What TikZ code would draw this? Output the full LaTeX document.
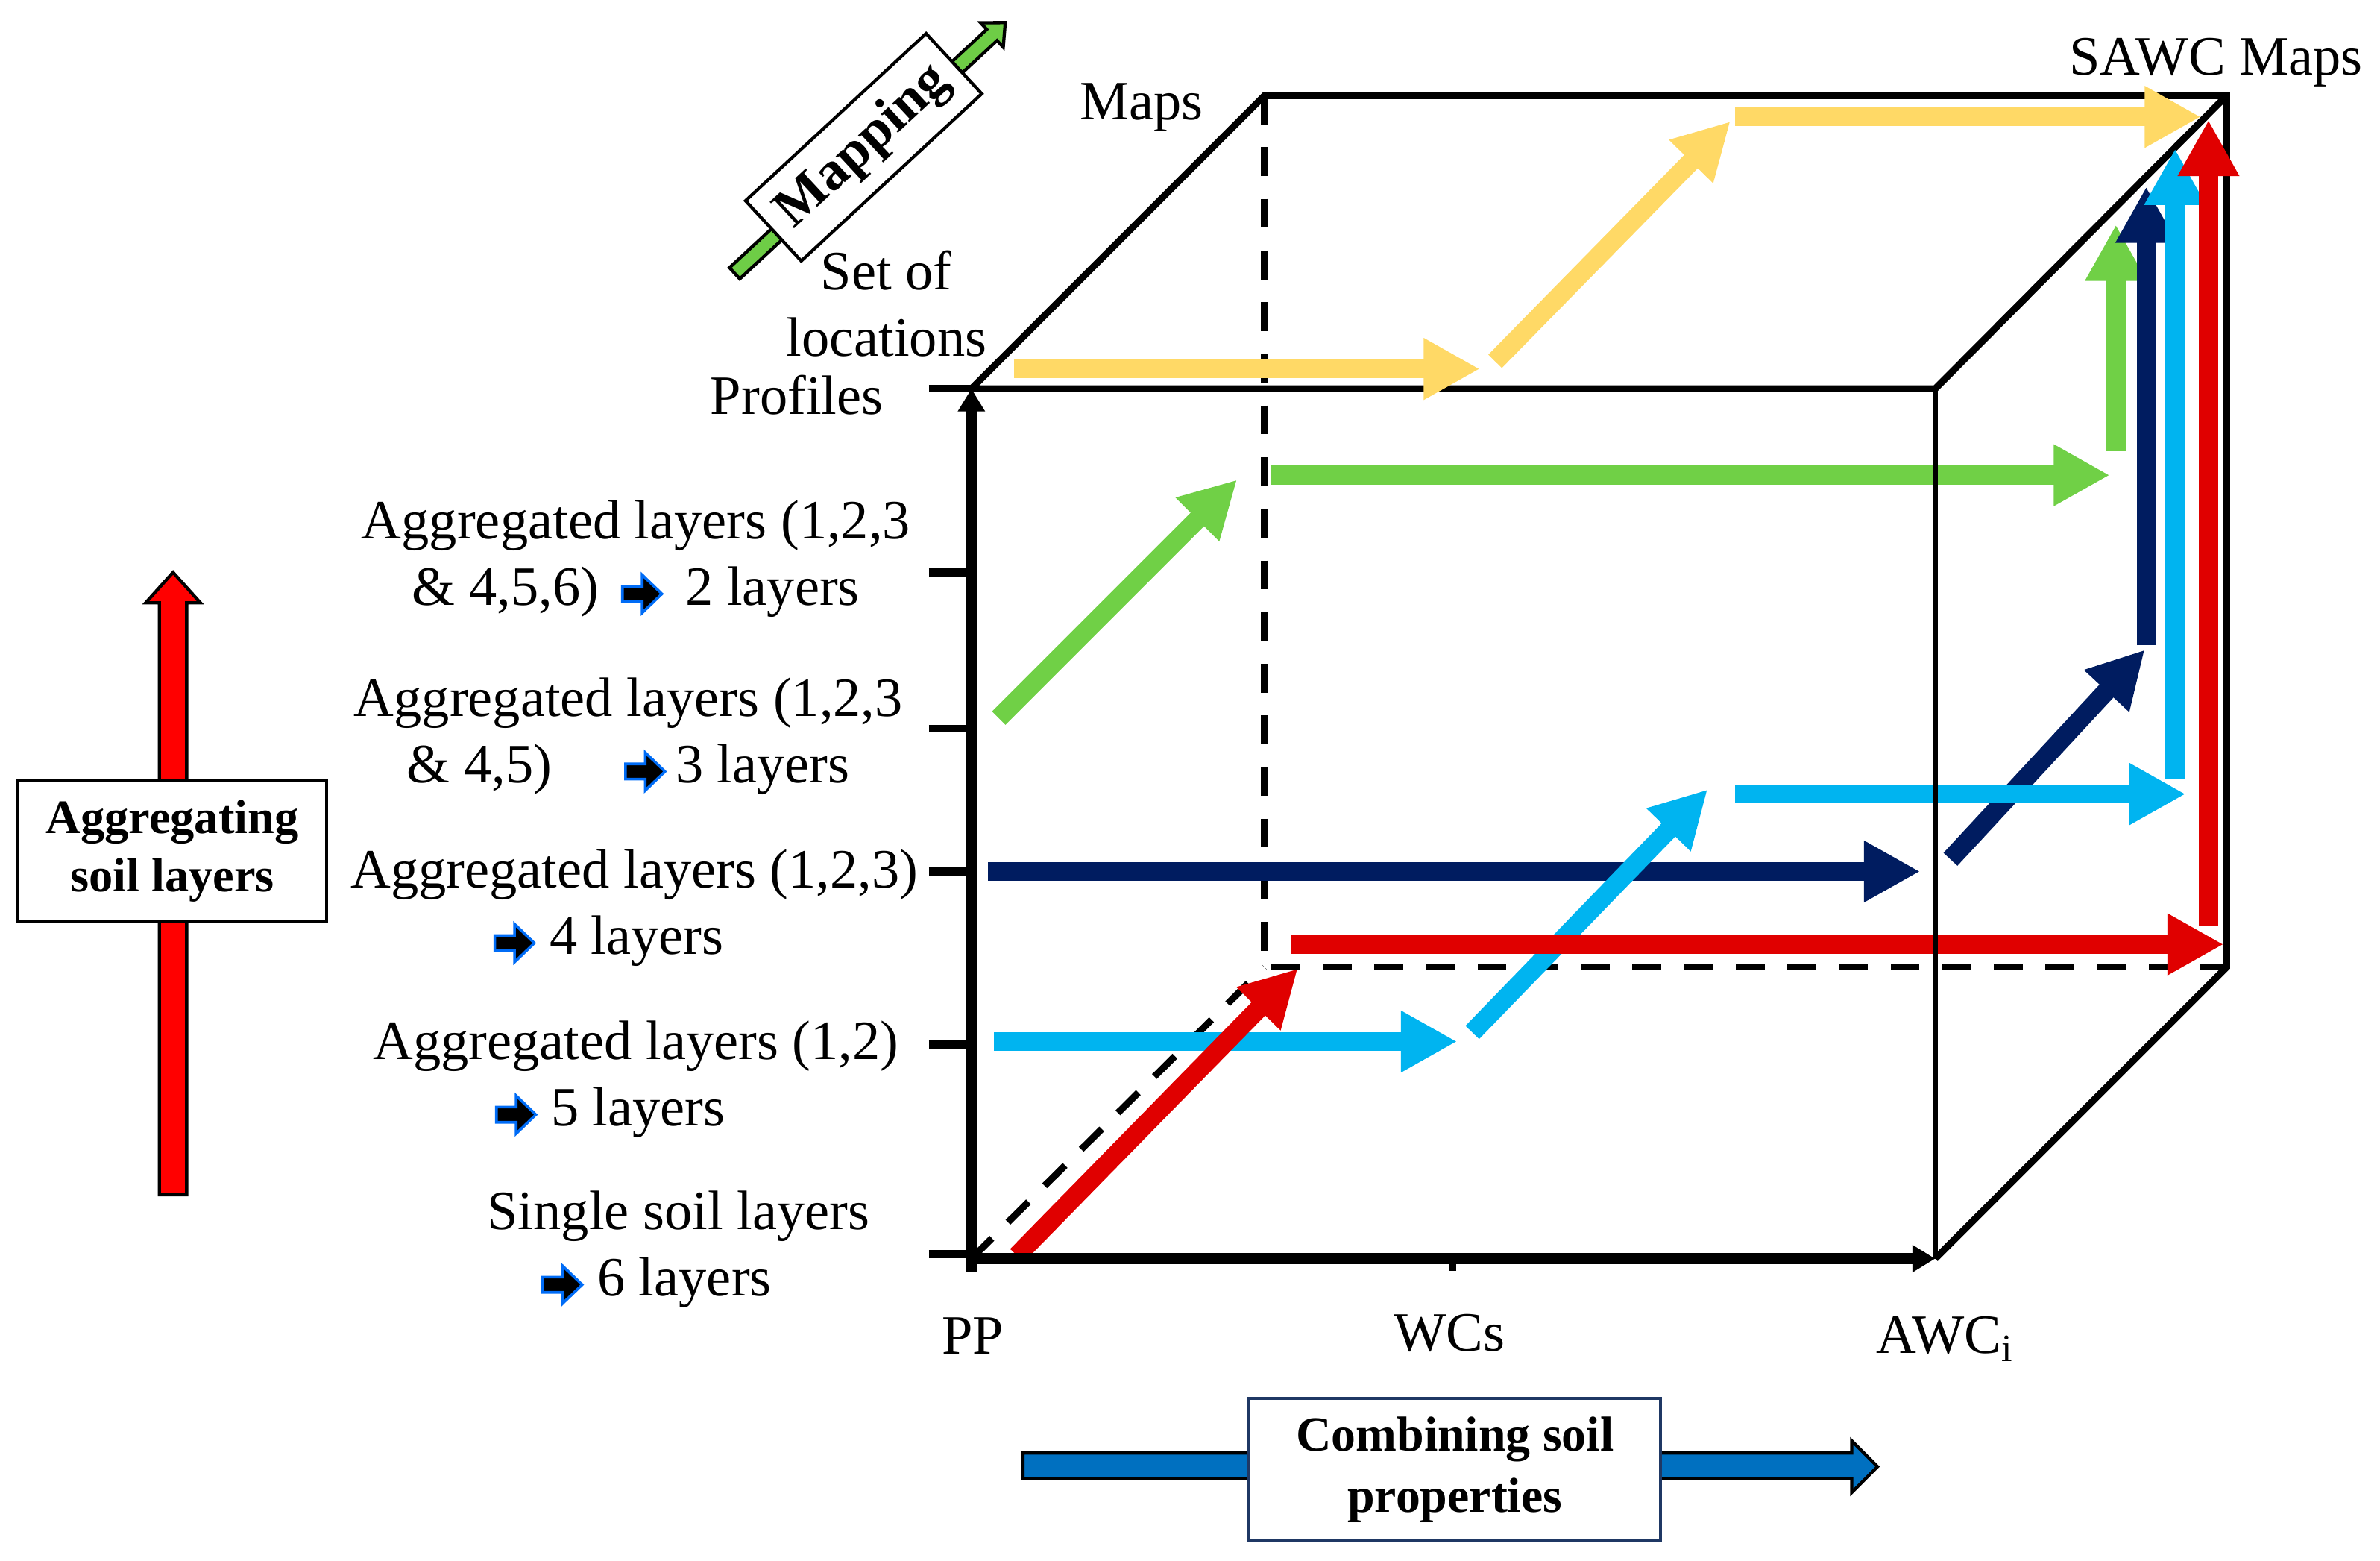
\documentclass[tikz,border=0pt]{standalone}
\usepackage{fontspec}
\setmainfont{Liberation Serif}
\usetikzlibrary{arrows.meta}
\definecolor{flowyellow}{RGB}{255,217,102}
\definecolor{flowgreen}{RGB}{112,208,70}
\definecolor{flownavy}{RGB}{0,28,96}
\definecolor{flowcyan}{RGB}{0,180,240}
\definecolor{flowred}{RGB}{224,0,0}
\definecolor{boxblue}{RGB}{0,112,192}
\definecolor{boxedge}{RGB}{31,56,100}
\definecolor{mapgreen}{RGB}{110,205,70}
\tikzset{edge/.style={line width=0.045cm}}
\tikzset{hidden/.style={edge,dash pattern=on 0.19cm off 0.15cm}}
\tikzset{axis/.style={line width=0.075cm,-{Triangle[length=0.15cm,width=0.17cm]}}}
\tikzset{tick/.style={line width=0.05cm}}
\tikzset{flow/.style={line width=0.125cm,-{Triangle[length=0.37cm,width=0.38cm]}}}
\tikzset{lbl/.style={font=\fontsize{10.4}{12.5}\selectfont,align=center,inner sep=0pt}}
\tikzset{sidebox/.style={draw,fill=white,line width=0.6pt,align=center,inner sep=0pt}}
\newcommand{\blkarrow}{\tikz[baseline=-0.45ex,x=1cm,y=1cm]\draw[draw=flowcyan!60!blue,fill=black,line width=0.5pt] (0,-0.05) -- (0.13,-0.05) -- (0.13,-0.125) -- (0.26,0) -- (0.13,0.125) -- (0.13,0.05) -- (0,0.05) -- cycle;}

\begin{document}
\begin{tikzpicture}[x=0.01cm,y=-0.01cm]
        \useasboundingbox (0,0) rectangle (1568,1028);
        % cube corners
        \coordinate (A) at (640,829);
        \coordinate (B) at (1275,829);
        \coordinate (C) at (1275,256);
        \coordinate (D) at (640,256);
        \coordinate (E) at (833,637);
        \coordinate (F) at (1467,637);
        \coordinate (G) at (1467,63);
        \coordinate (H) at (833,63);
        \coordinate (A0) at (640,838);
        \coordinate (A1) at (636,829);
        \draw[hidden] (H) -- (E) -- (F);
        \draw[hidden] (A) -- (E);
        \draw[edge] (D) -- (H) -- (G) -- (F) -- (B);
        \draw[edge] (D) -- (C) -- (G);
        % yellow path
        \coordinate (y1a) at (668,243); \coordinate (y1b) at (975,243);
        \coordinate (y2a) at (985,238); \coordinate (y2b) at (1140,80);
        \coordinate (y3a) at (1143,77); \coordinate (y3b) at (1450,77);
            \draw[flow,flowyellow] (y1a) -- (y1b);
            \draw[flow,flowyellow] (y2a) -- (y2b);
            \draw[flow,flowyellow] (y3a) -- (y3b);
        % green path
        \coordinate (g1a) at (658,473); \coordinate (g1b) at (815,316);
        \coordinate (g2a) at (837,313); \coordinate (g2b) at (1390,313);
        \coordinate (g3a) at (1394,297); \coordinate (g3b) at (1394,148);
            \draw[flow,flowgreen] (g1a) -- (g1b);
            \draw[flow,flowgreen] (g2a) -- (g2b);
            \draw[flow,flowgreen] (g3a) -- (g3b);
        % navy path
        \coordinate (n1a) at (651,574); \coordinate (n1b) at (1265,574);
        \coordinate (n2a) at (1285,566); \coordinate (n2b) at (1413,428);
        \coordinate (n3a) at (1414,425); \coordinate (n3b) at (1414,123);
            \draw[flow,flownavy] (n1a) -- (n1b);
            \draw[flow,flownavy] (n2a) -- (n2b);
            \draw[flow,flownavy] (n3a) -- (n3b);
        % light blue path
        \coordinate (c1a) at (655,686); \coordinate (c1b) at (960,686);
        \coordinate (c2a) at (970,680); \coordinate (c2b) at (1125,520);
        \coordinate (c3a) at (1143,523); \coordinate (c3b) at (1440,523);
        \coordinate (c4a) at (1433,513); \coordinate (c4b) at (1433,98);
            \draw[flow,flowcyan] (c1a) -- (c1b);
            \draw[flow,flowcyan] (c2a) -- (c2b);
            \draw[flow,flowcyan] (c3a) -- (c3b);
            \draw[flow,flowcyan] (c4a) -- (c4b);
        % red path
        \coordinate (r1a) at (670,827); \coordinate (r1b) at (855,638);
        \coordinate (r2a) at (851,622); \coordinate (r2b) at (1465,622);
        \coordinate (r3a) at (1455,610); \coordinate (r3b) at (1455,79);
            \draw[flow,flowred] (r1a) -- (r1b);
            \draw[flow,flowred] (r2a) -- (r2b);
            \draw[flow,flowred] (r3a) -- (r3b);
        % front edges and axes
        \draw[edge,line width=0.035cm] (B) -- (C);
        \draw[axis] (A0) -- (D);
        \draw[axis] (A1) -- (B);
        \draw[tick] (612,256) -- (640,256);
        \draw[tick] (612,377) -- (640,377);
        \draw[tick] (612,480) -- (640,480);
        \draw[tick] (612,574) -- (640,574);
        \draw[tick] (612,688) -- (640,688);
        \draw[tick] (612,826) -- (640,826);
        \draw[tick] (957,829) -- (957,837);
        % labels
        \node[lbl] (sawc) at (1460,41) {SAWC Maps};
        \node[lbl] (maps) at (752,71) {Maps};
        \node[lbl] (loc) at (584,200) {Set of\\locations};
        \node[lbl] (prof) at (525,260) {Profiles};
        \node[lbl] (pp) at (641,880) {PP};
        \node[lbl] (wcs) at (955,878) {WCs};
        \node[lbl] (awc) at (1282,882) {AWC\textsubscript{i}};
        \node[lbl] (lay2) at (419,368) {Aggregated layers (1,2,3\\\& 4,5,6)\hspace{0.4em}\blkarrow{}\hspace{0.4em}2 layers};
        \node[lbl] (lay3) at (414,485) {Aggregated layers (1,2,3\\\& 4,5)\hspace{1.3em}\blkarrow{}\,3 layers};
        \node[lbl] (lay4) at (418,598) {Aggregated layers (1,2,3)\\\blkarrow{} 4 layers\hspace*{0.34cm}};
        \node[lbl] (lay5) at (419,711) {Aggregated layers (1,2)\\\blkarrow{} 5 layers\hspace*{0.34cm}};
        \node[lbl] (lay6) at (447,823) {Single soil layers\\\blkarrow{} 6 layers\hspace*{0.29cm}};
        % aggregating
        \draw[line width=0.6pt,fill=red] (105,787) -- (123,787) -- (123,397) -- (132,397) -- (114,377) -- (96,397) -- (105,397) -- cycle;
        \node[sidebox,minimum width=2.03cm,minimum height=0.93cm,font=\fontsize{9}{10.8}\selectfont\bfseries] (agg) at (113.5,560.5) {Aggregating\\soil layers};
        % combining
        \draw[line width=0.6pt,fill=boxblue] (674,957) -- (1220,957) -- (1220,949) -- (1237,966) -- (1220,983) -- (1220,974) -- (674,974) -- cycle;
        \node[sidebox,draw=boxedge,minimum width=2.71cm,minimum height=0.94cm,font=\fontsize{9.2}{11.4}\selectfont\bfseries] (comb) at (958.5,968) {Combining soil\\properties};
        % mapping
        \begin{scope}[shift={(484,180)},rotate=42.8]
            \draw[line width=0.6pt,fill=mapgreen] (0,-5) -- (231,-5) -- (231,-11) -- (243,0) -- (231,11) -- (231,5) -- (0,5) -- cycle;
        \end{scope}
        \node[sidebox,rotate=42.8,minimum width=1.62cm,minimum height=0.54cm,font=\fontsize{10.3}{12}\selectfont\bfseries] (map) at (569,97) {Mapping};
    \end{tikzpicture}
\end{document}
